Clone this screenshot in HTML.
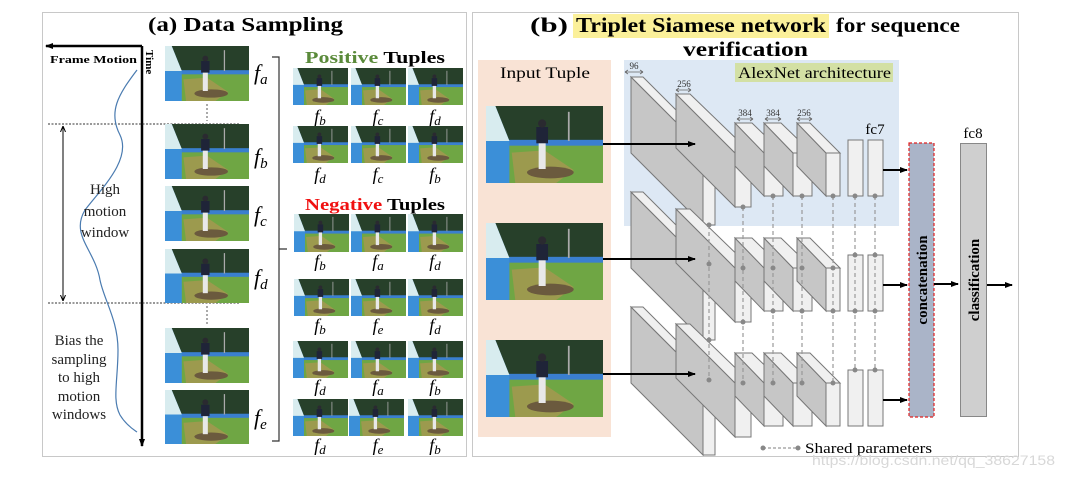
<!DOCTYPE html>
<html><head><meta charset="utf-8"><style>
html,body{margin:0;padding:0;background:#fff;}
svg{display:block;}
text{font-family:"Liberation Serif",serif;}
</style></head><body>
<svg width="1065" height="477" viewBox="0 0 1065 477" xmlns="http://www.w3.org/2000/svg">
<defs>
<symbol id="ph" viewBox="0 0 100 66" preserveAspectRatio="none">
<rect width="100" height="66" fill="#6fa644"/>
<rect width="100" height="31" fill="#27402a"/>
<rect x="0" y="29" width="100" height="5" fill="#3a7fcf"/>
<polygon points="0,0 8,0 20,30 20,66 0,66" fill="#3b8fd8"/>
<polygon points="0,0 8,0 20,30 0,30" fill="#d8ecef"/>
<polygon points="22,40 50,38 75,55 60,66 25,66" fill="#9c9a4e"/>
<ellipse cx="55" cy="57" rx="20" ry="5" fill="#6b5a3e"/>
<rect x="43" y="18" width="10" height="14" fill="#1f2438"/>
<rect x="45" y="32" width="6" height="22" fill="#e8e8e8"/>
<circle cx="48" cy="15" r="3.5" fill="#2a2a30"/>
<rect x="70" y="5" width="1.5" height="25" fill="#aaa"/>
</symbol>
<marker id="ah" markerWidth="8" markerHeight="8" refX="7" refY="4" orient="auto" markerUnits="userSpaceOnUse"><path d="M0,1 L8,4 L0,7 z" fill="#000"/></marker>
<marker id="ahs" markerWidth="6" markerHeight="6" refX="5" refY="3" orient="auto" markerUnits="userSpaceOnUse"><path d="M0,0.5 L6,3 L0,5.5" fill="none" stroke="#000" stroke-width="1"/></marker>
<g id="net">
 <polygon points="631,77 703,149 703,225 631,153" fill="#c6c6c6" stroke="#777" stroke-width="1"/>
 <polygon points="631,77 643,77 715,149 703,149" fill="#f0f0f0" stroke="#777" stroke-width="1"/>
 <rect x="703" y="149" width="12" height="76" fill="#f0f0f0" stroke="#777"/>
 <polygon points="676,94 735,153 735,207 676,148" fill="#c6c6c6" stroke="#777"/>
 <polygon points="676,94 690,94 751,153 735,153" fill="#f0f0f0" stroke="#777"/>
 <rect x="735" y="153" width="16" height="54" fill="#f0f0f0" stroke="#777"/>
 <polygon points="735,123 764,153 764,196 735,166" fill="#c6c6c6" stroke="#777"/>
 <polygon points="735,123 752,123 783,153 764,153" fill="#f0f0f0" stroke="#777"/>
 <rect x="764" y="153" width="19" height="43" fill="#f0f0f0" stroke="#777"/>
 <polygon points="764,123 793,153 793,196 764,166" fill="#c6c6c6" stroke="#777"/>
 <polygon points="764,123 781,123 812,153 793,153" fill="#f0f0f0" stroke="#777"/>
 <rect x="793" y="153" width="19" height="43" fill="#f0f0f0" stroke="#777"/>
 <polygon points="797,123 826,153 826,196 797,166" fill="#c6c6c6" stroke="#777"/>
 <polygon points="797,123 810,123 840,153 826,153" fill="#f0f0f0" stroke="#777"/>
 <rect x="826" y="153" width="14" height="43" fill="#f0f0f0" stroke="#777"/>
 <rect x="848" y="140" width="15" height="56" fill="#f0f0f0" stroke="#777"/>
 <rect x="868" y="140" width="15" height="56" fill="#f0f0f0" stroke="#777"/>
 <line x1="603" y1="144" x2="695" y2="144" stroke="#000" stroke-width="2" marker-end="url(#ah)"/>
 <line x1="883" y1="170" x2="907" y2="170" stroke="#000" stroke-width="2" marker-end="url(#ah)"/>
</g>
</defs>

<!-- Panel a -->
<rect x="42.5" y="12.5" width="424" height="444" fill="#fff" stroke="#c8c8c8"/>
<text x="148" y="31" font-size="20" font-weight="bold" textLength="195" lengthAdjust="spacingAndGlyphs">(a) Data Sampling</text>
<line x1="142" y1="46" x2="142" y2="446" stroke="#000" stroke-width="2.5" marker-end="url(#ah)"/>
<line x1="142" y1="46" x2="46" y2="46" stroke="#000" stroke-width="2.5" marker-end="url(#ah)"/>
<text x="50" y="63" font-size="11" font-weight="bold" textLength="87" lengthAdjust="spacingAndGlyphs">Frame Motion</text>
<text transform="translate(146,50) rotate(90)" font-size="11" font-weight="bold">Time</text>
<line x1="48" y1="124" x2="240" y2="124" stroke="#333" stroke-dasharray="2,1.5"/>
<line x1="48" y1="303" x2="240" y2="303" stroke="#333" stroke-dasharray="2,1.5"/>
<line x1="63" y1="300" x2="63" y2="127" stroke="#000" marker-end="url(#ahs)"/>
<line x1="63" y1="127" x2="63" y2="300" stroke="#000" marker-end="url(#ahs)"/>
<path d="M137,70 C118,95 108,112 120,135 C132,160 100,190 85,210 C70,235 95,250 100,280 C104,300 118,320 118,350 C118,380 112,400 120,415 C126,425 134,430 137,432" fill="none" stroke="#4a7bb0" stroke-width="1.2"/>
<g font-size="15" text-anchor="middle" fill="#222">
<text x="105" y="194">High</text><text x="105" y="216">motion</text><text x="105" y="237">window</text>
<text x="79" y="345">Bias the</text><text x="79" y="364">sampling</text><text x="79" y="382">to high</text><text x="79" y="401">motion</text><text x="79" y="419">windows</text>
</g>
<use href="#ph" x="165" y="46" width="84" height="55"/>
<use href="#ph" x="165" y="124" width="84" height="55"/>
<use href="#ph" x="165" y="186" width="84" height="55"/>
<use href="#ph" x="165" y="249" width="84" height="54"/>
<use href="#ph" x="165" y="328" width="84" height="55"/>
<use href="#ph" x="165" y="390" width="84" height="54"/>
<line x1="207" y1="104" x2="207" y2="121" stroke="#aaa" stroke-width="2" stroke-dasharray="2,2"/>
<line x1="207" y1="306" x2="207" y2="325" stroke="#aaa" stroke-width="2" stroke-dasharray="2,2"/>
<g font-size="22" font-style="italic">
<text x="254" y="80">f<tspan font-size="15" dy="4">a</tspan></text>
<text x="254" y="164">f<tspan font-size="15" dy="4">b</tspan></text>
<text x="254" y="222">f<tspan font-size="15" dy="4">c</tspan></text>
<text x="254" y="285">f<tspan font-size="15" dy="4">d</tspan></text>
<text x="254" y="425">f<tspan font-size="15" dy="4">e</tspan></text>
</g>
<path d="M272,57 L279,57 L279,441 L272,441 M279,249 L287,249" fill="none" stroke="#333" stroke-width="1.2"/>
<text x="305" y="63" font-size="17" font-weight="bold" textLength="140" lengthAdjust="spacingAndGlyphs"><tspan fill="#5a8a3a">Positive</tspan> Tuples</text>
<text x="305" y="210" font-size="17" font-weight="bold" textLength="140" lengthAdjust="spacingAndGlyphs"><tspan fill="#f01010">Negative</tspan> Tuples</text>
<g>
<use href="#ph" x="293" y="68" width="55" height="37"/><use href="#ph" x="351" y="68" width="55" height="37"/><use href="#ph" x="408" y="68" width="55" height="37"/>
<use href="#ph" x="293" y="126" width="55" height="37"/><use href="#ph" x="351" y="126" width="55" height="37"/><use href="#ph" x="408" y="126" width="55" height="37"/>
<use href="#ph" x="294" y="214" width="55" height="38"/><use href="#ph" x="351" y="214" width="55" height="38"/><use href="#ph" x="408" y="214" width="55" height="38"/>
<use href="#ph" x="294" y="279" width="55" height="37"/><use href="#ph" x="351" y="279" width="55" height="37"/><use href="#ph" x="408" y="279" width="55" height="37"/>
<use href="#ph" x="293" y="341" width="55" height="37"/><use href="#ph" x="351" y="341" width="55" height="37"/><use href="#ph" x="408" y="341" width="55" height="37"/>
<use href="#ph" x="293" y="399" width="55" height="37"/><use href="#ph" x="349" y="399" width="55" height="37"/><use href="#ph" x="408" y="399" width="55" height="37"/>
</g>
<g font-size="18" font-style="italic" text-anchor="middle">
<text x="320" y="122">f<tspan font-size="13" dy="3">b</tspan></text><text x="378" y="122">f<tspan font-size="13" dy="3">c</tspan></text><text x="435" y="122">f<tspan font-size="13" dy="3">d</tspan></text>
<text x="320" y="180">f<tspan font-size="13" dy="3">d</tspan></text><text x="378" y="180">f<tspan font-size="13" dy="3">c</tspan></text><text x="435" y="180">f<tspan font-size="13" dy="3">b</tspan></text>
<text x="320" y="267">f<tspan font-size="13" dy="3">b</tspan></text><text x="378" y="267">f<tspan font-size="13" dy="3">a</tspan></text><text x="435" y="267">f<tspan font-size="13" dy="3">d</tspan></text>
<text x="320" y="331">f<tspan font-size="13" dy="3">b</tspan></text><text x="378" y="331">f<tspan font-size="13" dy="3">e</tspan></text><text x="435" y="331">f<tspan font-size="13" dy="3">d</tspan></text>
<text x="320" y="392">f<tspan font-size="13" dy="3">d</tspan></text><text x="378" y="392">f<tspan font-size="13" dy="3">a</tspan></text><text x="435" y="392">f<tspan font-size="13" dy="3">b</tspan></text>
<text x="320" y="451">f<tspan font-size="13" dy="3">d</tspan></text><text x="378" y="451">f<tspan font-size="13" dy="3">e</tspan></text><text x="435" y="451">f<tspan font-size="13" dy="3">b</tspan></text>
</g>

<!-- Panel b -->
<rect x="472.5" y="12.5" width="546" height="444" fill="#fff" stroke="#c8c8c8"/>
<rect x="573" y="14" width="256" height="24" fill="#fbf09a"/>
<g font-size="21" font-weight="bold">
<text x="530" y="32" textLength="38" lengthAdjust="spacingAndGlyphs">(b)</text>
<text x="576" y="32" textLength="250" lengthAdjust="spacingAndGlyphs">Triplet Siamese network</text>
<text x="836" y="32" textLength="124" lengthAdjust="spacingAndGlyphs">for sequence</text>
<text x="683" y="56" textLength="125" lengthAdjust="spacingAndGlyphs">verification</text>
</g>
<rect x="478" y="60" width="133" height="377" fill="#f9e3d5"/>
<text x="500" y="78" font-size="16" textLength="90" lengthAdjust="spacingAndGlyphs">Input Tuple</text>
<rect x="624" y="60" width="275" height="166" fill="#dde8f4"/>
<rect x="735" y="63" width="158" height="19" fill="#d3e0a4"/>
<text x="738" y="78" font-size="16" textLength="153" lengthAdjust="spacingAndGlyphs">AlexNet architecture</text>
<use href="#ph" x="486" y="106" width="117" height="77"/>
<use href="#ph" x="486" y="223" width="117" height="77"/>
<use href="#ph" x="486" y="340" width="117" height="77"/>
<g font-size="9" text-anchor="middle" fill="#333">
<text x="634" y="69">96</text><text x="684" y="87">256</text><text x="745" y="116">384</text><text x="773" y="116">384</text><text x="804" y="116">256</text>
</g>
<g stroke="#666" stroke-width="0.8" fill="none">
<path d="M625,72 H643 M625,72 l3,-2 M625,72 l3,2 M643,72 l-3,-2 M643,72 l-3,2"/>
<path d="M676,90 H691 M676,90 l3,-2 M676,90 l3,2 M691,90 l-3,-2 M691,90 l-3,2"/>
<path d="M737,119 H753 M737,119 l3,-2 M737,119 l3,2 M753,119 l-3,-2 M753,119 l-3,2"/>
<path d="M765,119 H781 M765,119 l3,-2 M765,119 l3,2 M781,119 l-3,-2 M781,119 l-3,2"/>
<path d="M797,119 H812 M797,119 l3,-2 M797,119 l3,2 M812,119 l-3,-2 M812,119 l-3,2"/>
</g>
<text x="875" y="134" text-anchor="middle" font-size="15">fc7</text>
<text x="973" y="138" text-anchor="middle" font-size="15">fc8</text>
<use href="#net"/>
<use href="#net" y="115"/>
<use href="#net" y="230"/>
<g stroke="#999" stroke-width="1.2" stroke-dasharray="4,3">
<line x1="709" y1="225" x2="709" y2="380"/><line x1="743" y1="207" x2="743" y2="383"/>
<line x1="773" y1="196" x2="773" y2="383"/><line x1="802" y1="196" x2="802" y2="383"/>
<line x1="833" y1="196" x2="833" y2="383"/><line x1="855" y1="196" x2="855" y2="370"/>
<line x1="875" y1="196" x2="875" y2="370"/>
</g>
<g fill="#888">
<circle cx="709" cy="225" r="2.5"/><circle cx="709" cy="264" r="2.5"/><circle cx="709" cy="340" r="2.5"/><circle cx="709" cy="380" r="2.5"/>
<circle cx="743" cy="207" r="2.5"/><circle cx="743" cy="268" r="2.5"/><circle cx="743" cy="322" r="2.5"/><circle cx="743" cy="383" r="2.5"/>
<circle cx="773" cy="196" r="2.5"/><circle cx="773" cy="268" r="2.5"/><circle cx="773" cy="311" r="2.5"/><circle cx="773" cy="383" r="2.5"/>
<circle cx="802" cy="196" r="2.5"/><circle cx="802" cy="268" r="2.5"/><circle cx="802" cy="311" r="2.5"/><circle cx="802" cy="383" r="2.5"/>
<circle cx="833" cy="196" r="2.5"/><circle cx="833" cy="268" r="2.5"/><circle cx="833" cy="311" r="2.5"/><circle cx="833" cy="383" r="2.5"/>
<circle cx="855" cy="196" r="2.5"/><circle cx="855" cy="255" r="2.5"/><circle cx="855" cy="311" r="2.5"/><circle cx="855" cy="370" r="2.5"/>
<circle cx="875" cy="196" r="2.5"/><circle cx="875" cy="255" r="2.5"/><circle cx="875" cy="311" r="2.5"/><circle cx="875" cy="370" r="2.5"/>
</g>
<rect x="909" y="143" width="25" height="274" fill="#aab4c8" stroke="#e02020" stroke-width="1.2" stroke-dasharray="3,2"/>
<rect x="960.5" y="143.5" width="26" height="273" fill="#cfcfcf" stroke="#888"/>
<text transform="translate(927,280) rotate(-90)" text-anchor="middle" font-size="15" font-weight="bold">concatenation</text>
<text transform="translate(979,280) rotate(-90)" text-anchor="middle" font-size="15" font-weight="bold">classification</text>
<line x1="934" y1="284" x2="958" y2="284" stroke="#000" stroke-width="2" marker-end="url(#ah)"/>
<line x1="987" y1="285" x2="1012" y2="285" stroke="#000" stroke-width="2" marker-end="url(#ah)"/>
<line x1="763" y1="448" x2="798" y2="448" stroke="#999" stroke-width="1.2" stroke-dasharray="3,2"/>
<circle cx="763" cy="448" r="2.5" fill="#888"/><circle cx="798" cy="448" r="2.5" fill="#888"/>
<text x="805" y="453" font-size="15" textLength="127" lengthAdjust="spacingAndGlyphs">Shared parameters</text>
<text x="812" y="465" font-size="14" fill="#d8d8d8" style="font-family:'Liberation Sans',sans-serif" textLength="243" lengthAdjust="spacingAndGlyphs">https://blog.csdn.net/qq_38627158</text>
</svg>
</body></html>
